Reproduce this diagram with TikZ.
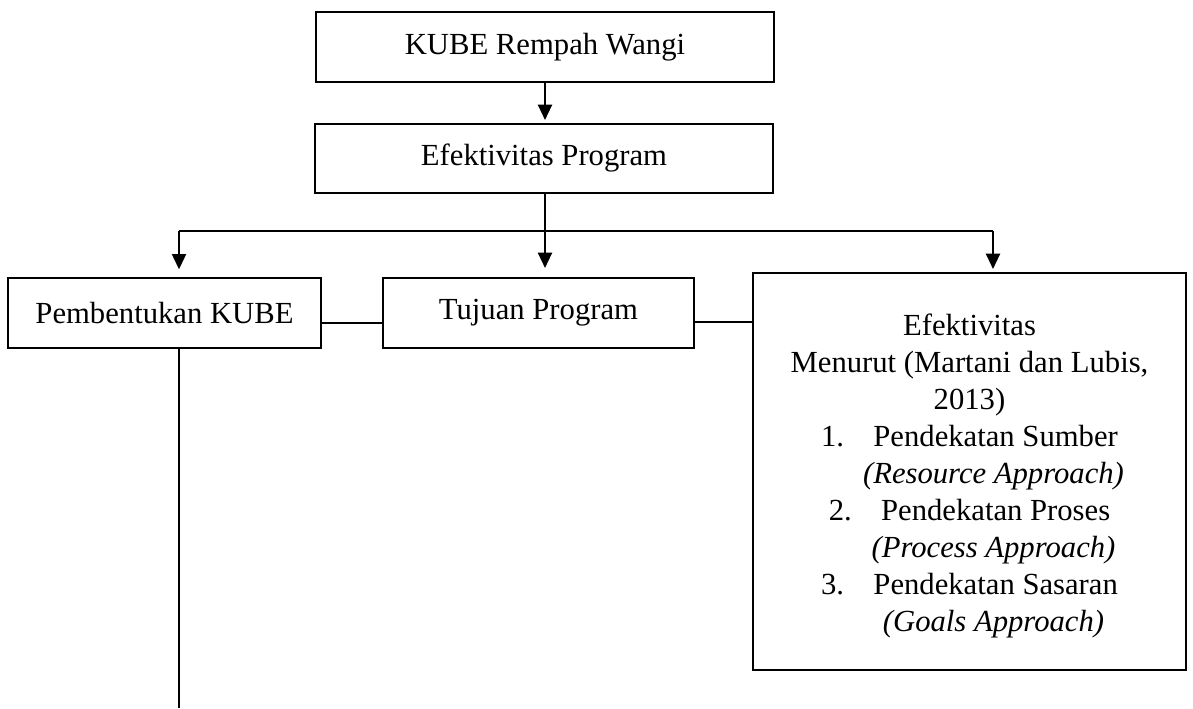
\documentclass[tikz,border=0pt]{standalone}
\usepackage{fontspec}
\setmainfont{Liberation Serif}
\usetikzlibrary{arrows.meta}
\begin{document}
\begin{tikzpicture}[x=0.75pt,y=-0.75pt,
  box/.style={draw,line width=2.2pt,inner sep=0pt,outer sep=0pt,
    font=\fontsize{23}{27.7}\selectfont},
  link/.style={line width=1.1pt},
  arr/.style={line width=1.6pt,-{Triangle[length=11.5pt,width=10.5pt]}}]
\path[use as bounding box] (0,0) rectangle (1193,708);
\node[box,minimum width=343.5pt,minimum height=52.5pt] (k1) at (545,47) {KUBE Rempah Wangi};
\node[box,minimum width=343.5pt,minimum height=51.75pt] (k2) at (544,158.5) {Efektivitas Program};
\node[box,minimum width=234.75pt,minimum height=52.5pt] (b3) at (164.5,313) {Pembentukan KUBE};
\node[box,minimum width=233.25pt,minimum height=52.5pt] (b4) at (538.5,313) {Tujuan Program};
\node[box,minimum width=324.75pt,minimum height=297.75pt,align=center] (b5) at (969.5,471.5)
  {\rule{0pt}{6pt}\\[-10.5pt]
   Efektivitas\\
   Menurut (Martani dan Lubis,\\
   2013)\\
   1.\hspace{22pt}Pendekatan Sumber\\
   \hspace*{36pt}\textit{(Resource Approach)}\\
   2.\hspace{22pt}Pendekatan Proses\\
   \hspace*{36pt}\textit{(Process Approach)}\\
   3.\hspace{22pt}Pendekatan Sasaran\\
   \hspace*{36pt}\textit{(Goals Approach)}};
\coordinate (j) at (545,231);
\coordinate (jl) at (179,231);
\coordinate (jr) at (993,231);
\coordinate (bot) at (179,708);
% arrows
\draw[arr,shorten >=3pt] (k1.south) -- (k1.south |- k2.north);
\draw[link] (k2.south -| j) -- (j);
\draw[link] (jl) -- (jr);
\draw[arr,shorten >=6.5pt] (jl) -- (jl |- b3.north);
\draw[arr,shorten >=7.5pt] (j) -- (j |- b4.north);
\draw[arr,shorten >=3pt] (jr) -- (jr |- b5.north);
% side links
\draw[link] ([yshift=-7.5pt]b3.east) -- ([yshift=-7.5pt]b4.west);
\draw[link] ([yshift=-6.75pt]b4.east) -- ([yshift=-6.75pt]b4.east -| b5.west);
% bottom line
\draw[link] (jl |- b3.south) -- (bot);
\end{tikzpicture}
\end{document}
